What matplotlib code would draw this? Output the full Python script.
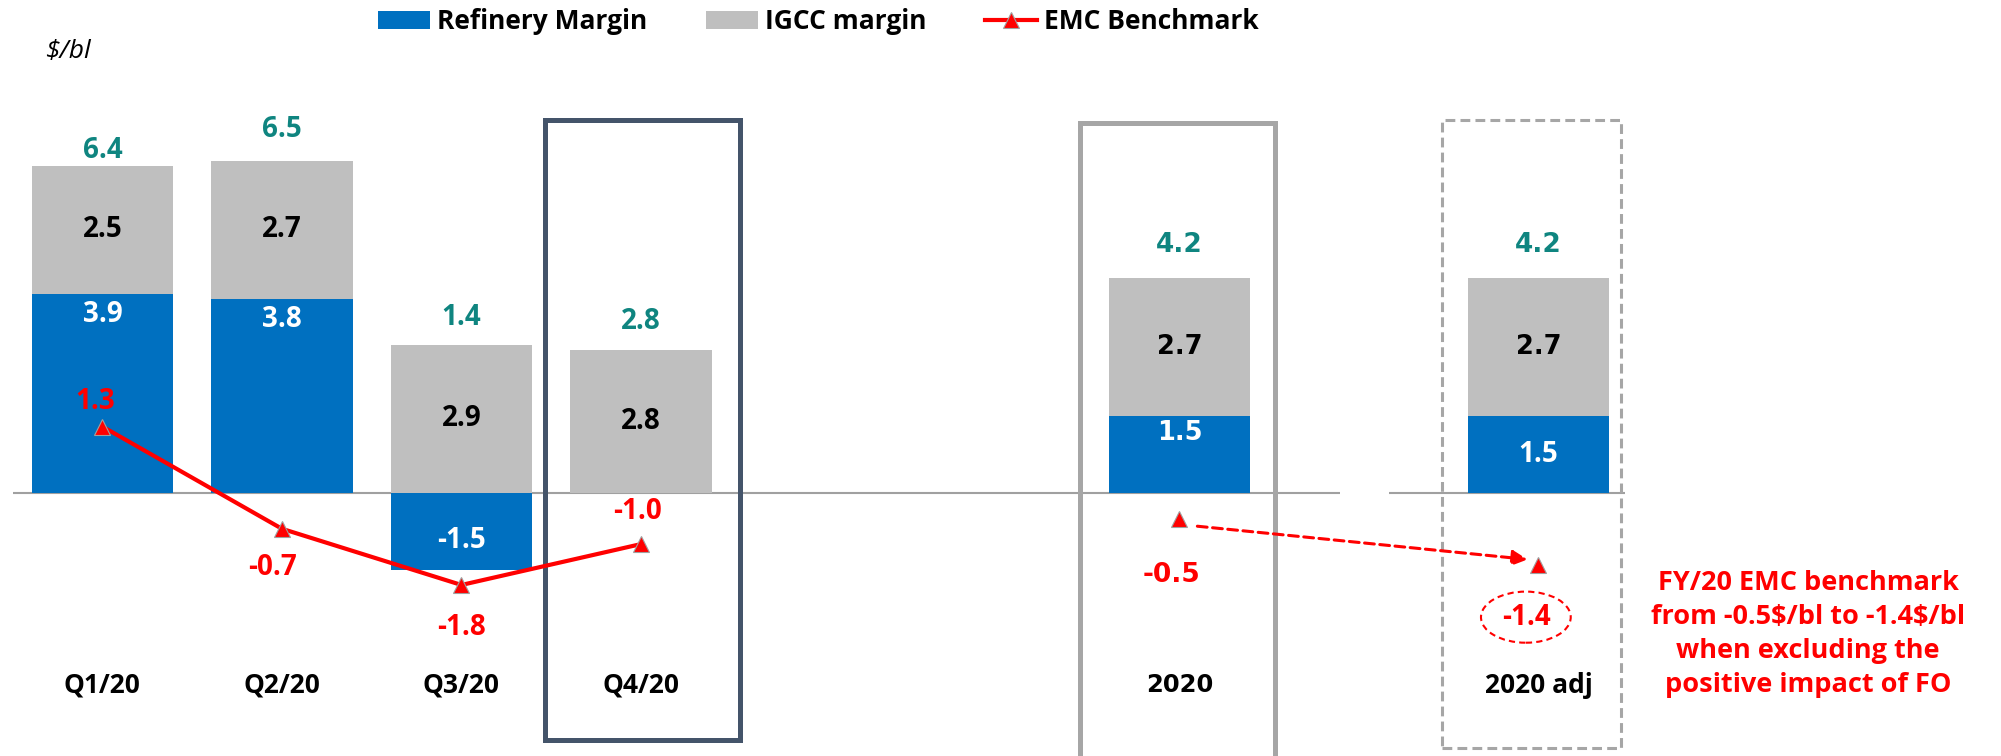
import matplotlib
matplotlib.use('Agg')
import matplotlib.pyplot as plt
from matplotlib.patches import Rectangle, Ellipse
from matplotlib.lines import Line2D
import numpy as np

categories = ['Q1/20', 'Q2/20', 'Q3/20', 'Q4/20', '2020', '2020 adj']
refinery = [3.9, 3.8, -1.5, 0.0, 1.5, 1.5]
igcc = [2.5, 2.7, 2.9, 2.8, 2.7, 2.7]
totals = [6.4, 6.5, 1.4, 2.8, 4.2, 4.2]
emc = [1.3, -0.7, -1.8, -1.0, -0.5, -1.4]

x = np.array([0, 1, 2, 3, 6, 8])

BLUE = '#0070C0'
GRAY = '#BFBFBF'
TEAL = '#0F8580'
RED = '#FF0000'
OS = 'Open Sans'
DV = 'DejaVu Sans'

fig = plt.figure(figsize=(20.01, 7.56), dpi=100)
ax = fig.add_axes([0, 0, 1, 1])
ax.set_xlim(-0.5705, 10.577)
ax.set_ylim(-5.147, 9.648)
ax.axis('off')

# zero line, broken before the adjusted column
ax.hlines(0, -0.5, 6.895, color='#A0A0A0', lw=1.5, zorder=1)
ax.hlines(0, 7.168, 8.483, color='#A0A0A0', lw=1.5, zorder=1)

ref = np.array(refinery)
b1 = ax.bar(x, ref, 0.79, color=BLUE, zorder=2, label='Refinery Margin')
b2 = ax.bar(x, igcc, 0.79, bottom=np.maximum(ref, 0), color=GRAY, zorder=2,
            label='IGCC margin')

# EMC benchmark
mk = dict(marker='^', ms=11, mfc=RED, mec='#A0A0A0', mew=0.8)
ax.plot(x[:4], emc[:4], color=RED, lw=3, zorder=4, **mk)
ax.plot(x[4:], emc[4:], ls='none', zorder=4, **mk)

# arrow 2020 -> 2020 adj
ax.annotate('', xy=(x[5] - 0.06, emc[5] + 0.1), xytext=(x[4] + 0.1, emc[4] - 0.15),
            arrowprops=dict(arrowstyle='-|>,head_length=0.9,head_width=0.45',
                            color=RED, lw=2.2, ls=(0, (3.2, 1.8)),
                            shrinkA=0, shrinkB=0), zorder=4)

# boxes
ax.add_patch(Rectangle((x[3] - 0.534, -4.83), 1.086, 12.12, fill=False,
                       ec='#44546A', lw=3.6, zorder=3))
ax.add_patch(Rectangle((x[4] - 0.554, -5.6), 1.084, 12.84, fill=False,
                       ec='#A6A6A6', lw=3.6, zorder=3))
ax.add_patch(Rectangle((x[5] - 0.539, -5.0), 0.999, 12.3, fill=False,
                       ec='#A6A6A6', lw=2.2, ls=(0, (3.2, 1.7)), zorder=3))

num_font = [OS, OS, OS, OS, DV, DV]
blue_font = [OS, OS, OS, OS, DV, OS]
cat_font = [OS, OS, OS, OS, DV, OS]


def size_for(f):
    return 20 if f == OS else 19


# totals
tot_dy = [15, 31, 27, 28, 33, 33]
for i in range(len(x)):
    top = max(refinery[i], 0) + igcc[i]
    ax.annotate(f'{totals[i]:.1f}', (x[i], top), xytext=(0, tot_dy[i]),
                textcoords='offset pixels', ha='center', va='center',
                color=TEAL, fontweight='bold', family=num_font[i],
                fontsize=size_for(num_font[i]))

# IGCC segment labels
for i in range(len(x)):
    base = max(refinery[i], 0)
    ax.text(x[i], base + igcc[i] / 2, f'{igcc[i]:.1f}', ha='center', va='center',
            color='black', fontweight='bold', family=num_font[i],
            fontsize=size_for(num_font[i]) - (0.5 if num_font[i] == DV else 0))

# refinery segment labels
blue_dy = [-21, -21, 29, 0, -17, None]
for i in range(len(x)):
    if refinery[i] == 0:
        continue
    f = blue_font[i]
    if blue_dy[i] is None:
        pos, dy = refinery[i] / 2, 0
    else:
        pos, dy = refinery[i], blue_dy[i]
    ax.annotate(f'{refinery[i]:.1f}', (x[i], pos), xytext=(0, dy),
                textcoords='offset pixels', ha='center', va='center',
                color='white', fontweight='bold', family=f,
                fontsize=size_for(f) - (0.5 if f == DV else 0))

# EMC labels
emc_off = [(-7, 25), (-9, -39), (0, -43), (-3, 33), (-8, -56), (-12, -53)]
for i in range(len(x)):
    f = blue_font[i]
    ax.annotate(f'{emc[i]:.1f}', (x[i], emc[i]), xytext=emc_off[i],
                textcoords='offset pixels', ha='center', va='center',
                color=RED, fontweight='bold', family=f, fontsize=size_for(f))

ax.add_patch(Ellipse((x[5] - 0.07, emc[5] - 1.03), 0.5, 1.0, fill=False,
                     ec=RED, lw=1.5, ls=(0, (3, 2)), zorder=4))

# category labels
for i, c in enumerate(categories):
    ax.text(x[i], -3.76, c, ha='center', va='center', fontweight='bold',
            family=cat_font[i], fontsize=19 if cat_font[i] == OS else 17.5)

fig.text(45 / 2001, 1 - 51 / 756, '$/bl', family=OS, style='italic',
         fontsize=19, ha='left', va='center', parse_math=False)

fig.text(1808 / 2001, 1 - 634 / 756,
         'FY/20 EMC benchmark\nfrom -0.5$/bl to -1.4$/bl\nwhen excluding the\npositive impact of FO',
         family=OS, fontweight='bold', fontsize=19.5, color=RED,
         ha='center', va='center', linespacing=1.4, parse_math=False)

emc_handle = Line2D([], [], color=RED, lw=3, **mk)
fig.legend([b1, b2, emc_handle], ['Refinery Margin', 'IGCC margin', 'EMC Benchmark'],
           loc='center', bbox_to_anchor=(0.409, 0.971), ncol=3, frameon=False,
           prop=dict(family=OS, weight='bold', size=19), handlelength=1.97,
           handleheight=0.7, handletextpad=0.28, columnspacing=2.2, borderpad=0)

fig.savefig('out.png', dpi=100)
